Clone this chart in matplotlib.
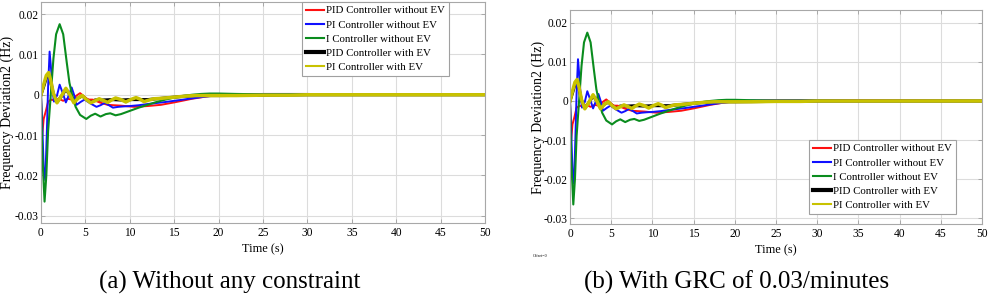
import matplotlib
matplotlib.use("Agg")
import matplotlib.pyplot as plt

plt.rcParams['font.family'] = ['Liberation Serif', 'DejaVu Serif']

# ---- data (time in s, deviation in Hz) ----
t_pid = [0, 0.12, 0.3, 0.55, 0.8, 1.2, 1.6, 2.0, 2.5, 3.0, 3.5, 4.0, 4.4, 4.9, 5.3, 5.8,
         6.6, 7.5, 9.0, 10.5, 12.0, 13.5, 15.0, 17.0, 19.0, 21.0, 25.0, 30.0, 35.0, 50.0]
f_pid = [0, -0.0105, -0.006, -0.004, -0.0017, -0.0012, -0.0015, -0.001, -0.0015, -0.001,
         -0.0012, -0.0002, 0.0004, -0.0005, -0.0012, -0.0012, -0.0019, -0.0025, -0.0027,
         -0.003, -0.0028, -0.0025, -0.0019, -0.001, -0.0003, 0.0, 0.0002, 0.0002, 0.0001, 0.0]

t_pi = [0, 0.15, 0.3, 0.48, 0.65, 0.8, 0.97, 1.15, 1.3, 1.46, 1.8, 2.1, 2.45, 2.8, 3.15,
        3.45, 3.75, 4.0, 4.45, 4.9, 5.6, 6.25, 6.7, 7.2, 7.65, 8.1, 8.7, 9.25, 10.0, 11.0,
        12.0, 14.0, 16.0, 18.0, 20.0, 22.0, 25.0, 30.0, 35.0, 50.0]
f_pi = [0, -0.008, -0.018, -0.0212, -0.01, 0.002, 0.0107, 0.006, 0.001, -0.0017, -0.0002,
        0.0025, 0.0004, -0.0019, 0.0, 0.0018, -0.0002, -0.0025, -0.0018, -0.0012, -0.0022,
        -0.003, -0.0026, -0.002, -0.0026, -0.0032, -0.003, -0.0029, -0.0028, -0.0026,
        -0.0023, -0.0018, -0.0012, -0.0006, -0.0001, 0.0001, 0.0002, 0.0002, 0.0001, 0.0]

t_i = [0, 0.15, 0.4, 0.6, 0.8, 1.1, 1.4, 1.7, 2.1, 2.5, 2.9, 3.2, 3.5, 3.9, 4.4, 5.1, 5.6,
       6.1, 6.7, 7.3, 7.8, 8.4, 9.0, 10.0, 11.0, 12.0, 13.0, 14.0, 15.0, 16.0, 17.0, 18.0,
       19.0, 20.0, 22.0, 25.0, 30.0, 35.0, 40.0, 50.0]
f_i = [0, -0.015, -0.0265, -0.02, -0.009, 0.0, 0.009, 0.015, 0.0175, 0.015, 0.008, 0.003,
       0.0, -0.003, -0.005, -0.006, -0.0052, -0.0047, -0.0054, -0.0048, -0.0046, -0.0051,
       -0.0048, -0.004, -0.0032, -0.0025, -0.0018, -0.0012, -0.0007, -0.0003, 0.0, 0.0002,
       0.0003, 0.0003, 0.0002, 0.0001, 0.0001, 0.0, 0.0, 0.0]

t_pid_ev = [0, 0.3, 0.6, 0.86, 1.1, 1.4, 1.8, 2.3, 2.8, 3.25, 3.7, 4.2, 4.65, 5.1, 5.6, 6.1,
            7.0, 8.0, 9.0, 10.0, 12.0, 14.0, 16.0, 18.0, 20.0, 25.0, 30.0, 50.0]
f_pid_ev = [0, 0.002, 0.0042, 0.0048, 0.003, 0.0002, -0.0018, -0.0004, 0.0013, 0.0, -0.0017,
            -0.0008, -0.0003, -0.0011, -0.0017, -0.0013, -0.0013, -0.0012, -0.0013, -0.0012,
            -0.0012, -0.0008, -0.0004, -0.0002, -0.0002, -0.0001, 0.0, 0.0]

t_pi_ev = [0, 0.3, 0.6, 0.86, 1.1, 1.4, 1.8, 2.3, 2.8, 3.25, 3.7, 4.2, 4.65, 5.1, 5.6, 6.1,
           6.55, 7.0, 7.5, 7.95, 8.4, 9.0, 9.55, 10.1, 10.7, 11.15, 11.6, 12.2, 12.7, 13.5,
           14.5, 15.5, 16.5, 17.5, 18.5, 20.0, 22.0, 25.0, 28.0, 30.0, 35.0, 40.0, 45.0, 50.0]
f_pi_ev = [0, 0.0025, 0.0048, 0.0055, 0.0035, 0.0003, -0.002, -0.0003, 0.0016, 0.0, -0.002,
           -0.0008, -0.0002, -0.0012, -0.002, -0.0015, -0.001, -0.0014, -0.0019, -0.0013,
           -0.0008, -0.0012, -0.0018, -0.0012, -0.0007, -0.0011, -0.0017, -0.0013, -0.001,
           -0.0009, -0.0007, -0.0005, -0.0003, -0.0002, -0.0002, -0.0002, -0.0002, -0.0001,
           -0.0001, 0.0, 0.0, 0.0, 0.0, 0.0]

labels = ['PID Controller without EV', 'PI Controller without EV', 'I Controller without EV',
          'PID Controller with EV', 'PI Controller with EV']
xticks = [0, 5, 10, 15, 20, 25, 30, 35, 40, 45, 50]
yticks = [-0.03, -0.02, -0.01, 0, 0.01, 0.02]
ytick_labels = ['-0.03', '-0.02', '-0.01', '0', '0.01', '0.02']
captions = ['(a) Without any constraint', '(b) With GRC of 0.03/minutes']

W, H = 989, 300
fig = plt.figure(figsize=(W / 100, H / 100), dpi=100)


def px(x0, y0, x1, y1):
    return [x0 / W, 1 - y1 / H, (x1 - x0) / W, (y1 - y0) / H]


panels = [
    dict(rect=px(41, 2, 485, 223), ylim=(-0.0318, 0.0230), leg=(302, 2), ylab_x=14),
    dict(rect=px(570, 10, 982, 224), ylim=(-0.0315, 0.0233), leg=(809, 140), ylab_x=545),
]

for p in panels:
    ax = fig.add_axes(p['rect'])
    # black first so it sits under the yellow trace
    h_blk, = ax.plot(t_pid_ev, f_pid_ev, color='black', lw=2.2)
    h_red, = ax.plot(t_pid, f_pid, color='#ff1010', lw=1.4)
    h_blu, = ax.plot(t_pi, f_pi, color='#1010ff', lw=1.4)
    h_grn, = ax.plot(t_i, f_i, color='#0a8c1e', lw=1.5)
    h_yel, = ax.plot(t_pi_ev, f_pi_ev, color='#c8c200', lw=2.5)

    ax.set_xlim(0, 50)
    ax.set_ylim(*p['ylim'])
    ax.set_xticks(xticks)
    ax.set_yticks(yticks)
    ax.set_yticklabels(ytick_labels)
    ax.grid(True, color='#dcdcdc', lw=0.8)
    ax.tick_params(direction='in', length=3, width=0.6, color='#a0a0a0',
                   labelsize=8.3, top=True, right=True)
    ax.tick_params(axis='x', pad=3)
    ax.tick_params(axis='y', pad=1.5)
    for s in ax.spines.values():
        s.set_color('#a8a8a8')
        s.set_linewidth(0.8)
    ax.set_xlabel('Time (s)', fontsize=8.8, labelpad=3)
    ax.set_ylabel('Frequency Deviation2 (Hz)', fontsize=10)
    x0 = p['rect'][0] * W
    ax.yaxis.set_label_coords((p['ylab_x'] - x0) / (p['rect'][2] * W), 0.5)

    lx, ly = p['leg']
    leg = fig.legend([h_red, h_blu, h_grn, h_blk, h_yel], labels,
                     loc='upper left', bbox_to_anchor=(lx / W, 1 - ly / H),
                     bbox_transform=fig.transFigure, fontsize=7.8, frameon=True,
                     fancybox=False, framealpha=1, edgecolor='#a0a0a0',
                     handlelength=1.7, handletextpad=0.15, labelspacing=0.42,
                     borderpad=0.35, borderaxespad=0)
    leg.get_frame().set_linewidth(0.8)
    for lh, lw in zip(leg.get_lines(), [1.5, 1.5, 1.5, 3.0, 1.5]):
        lh.set_linewidth(lw)

fig.text(230 / W, 1 - 282 / H, captions[0], fontsize=18, ha='center', va='center')
fig.text(737 / W, 1 - 282 / H, captions[1], fontsize=18, ha='center', va='center')
fig.text(540 / W, 1 - 256 / H, 'Offset=0', fontsize=3, ha='center', va='center')

fig.savefig('out.png', dpi=100)
